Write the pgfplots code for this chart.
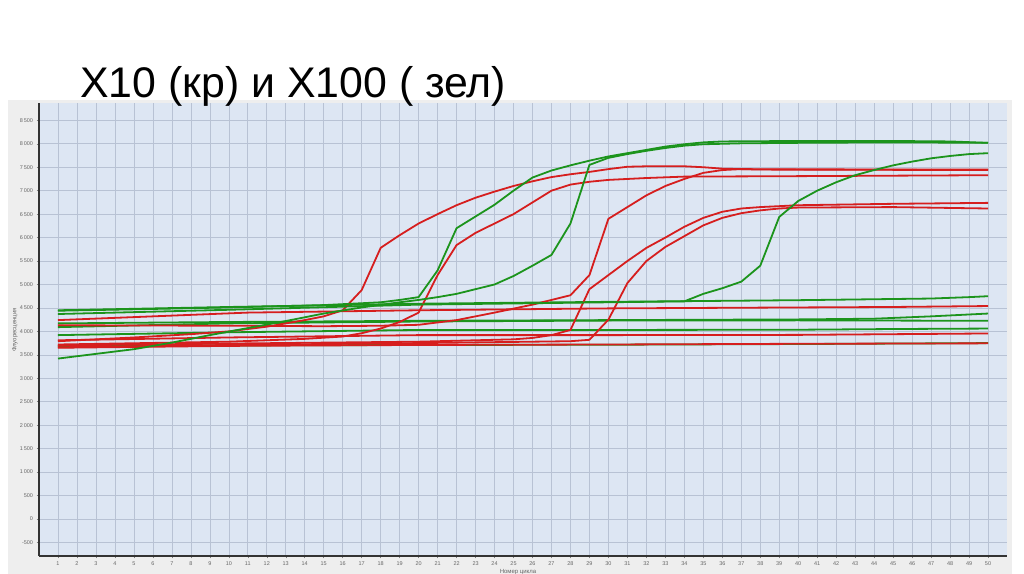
\documentclass[border=0pt]{standalone}
\usepackage{pgfplots}
\pgfplotsset{compat=1.18}
\usepackage{fontspec}
\setmainfont{Liberation Sans}
\definecolor{cred}{RGB}{214,30,30}
\definecolor{cgreen}{RGB}{28,148,28}
\definecolor{bgblue}{RGB}{221,230,243}
\definecolor{gridc}{RGB}{184,194,212}
\definecolor{panel}{RGB}{238,238,238}
\begin{document}
\begin{tikzpicture}[x=1bp,y=1bp]
\path[use as bounding box, fill=white] (0,0) rectangle (1024,574);
\fill[panel] (8,0) rectangle (1012,474);
\begin{axis}[at={(39bp,18bp)}, anchor=south west, width=968bp, height=453bp, scale only axis,
  xmin=0, xmax=51, ymin=-790, ymax=8870,
  axis background/.style={fill=bgblue},
  grid=major, major grid style={gridc, line width=0.6bp},
  axis lines*=left, axis line style={black!80, line width=1.3bp},
  xtick={1,...,50}, ytick={-500,0,...,8500},
  tick align=outside, major tick length=2.5bp, tick style={gray, line width=0.5bp},
  ticklabel style={font=\fontsize{5.5}{6}\selectfont, text=gray!80!black},
  /pgf/number format/assume math mode=true,
  /pgf/number format/1000 sep={\,},
  every axis plot/.append style={line width=1.8bp, line join=round},
]
% flat greens
\addplot[cgreen] coordinates {(1,4450)(10,4520)(20,4590)(30,4630)(40,4665)(45,4690)(47,4700)(49,4730)(50,4750)};
\addplot[cgreen] coordinates {(1,4170)(10,4200)(20,4225)(30,4240)(40,4255)(44,4270)(47,4320)(50,4380)};
\addplot[cgreen] coordinates {(1,4090)(10,4170)(20,4210)(30,4230)(40,4235)(50,4225)};
\addplot[cgreen] coordinates {(1,3920)(10,3980)(20,4030)(30,4030)(40,4035)(45,4050)(50,4060)};
\addplot[cgreen] coordinates {(1,3690)(20,3710)(30,3715)(40,3730)(50,3750)};
% flat reds
\addplot[cred] coordinates {(1,4240)(11,4400)(20,4450)(30,4490)(40,4510)(45,4520)(50,4540)};
\addplot[cred] coordinates {(1,3810)(10,3870)(20,3920)(30,3920)(40,3925)(45,3940)(50,3955)};
\addplot[cred] coordinates {(1,3650)(10,3690)(20,3710)(30,3720)(40,3735)(50,3745)};
% rising reds
\addplot[cred] coordinates {(1,3790)(5,3870)(8,3940)(10,4000)(12,4100)(14,4240)(15,4320)(16,4450)(17,4880)(18,5780)(19,6050)(20,6300)(21,6500)(22,6690)(23,6850)(24,6980)(25,7100)(26,7200)(27,7290)(28,7350)(29,7400)(30,7460)(31,7510)(32,7520)(34,7520)(35,7500)(36,7470)(38,7450)(50,7440)};
\addplot[cred] coordinates {(1,3720)(10,3780)(14,3840)(16,3890)(17,3960)(18,4060)(19,4200)(20,4400)(21,5200)(22,5840)(23,6100)(24,6300)(25,6500)(26,6750)(27,7000)(28,7130)(29,7190)(30,7230)(32,7270)(34,7300)(40,7310)(50,7330)};
\addplot[cred] coordinates {(1,4130)(10,4120)(15,4110)(18,4120)(20,4140)(22,4240)(24,4400)(26,4570)(28,4770)(29,5200)(30,6400)(31,6650)(32,6900)(33,7100)(34,7250)(35,7380)(36,7440)(37,7460)(40,7455)(50,7450)};
\addplot[cred] coordinates {(1,3700)(10,3740)(20,3780)(25,3830)(26,3860)(27,3920)(28,4030)(29,4900)(30,5200)(31,5500)(32,5780)(33,6000)(34,6230)(35,6420)(36,6550)(37,6620)(38,6650)(39,6670)(40,6690)(45,6720)(50,6740)};
\addplot[cred] coordinates {(1,3660)(10,3710)(20,3750)(28,3790)(29,3820)(30,4250)(31,5030)(32,5500)(33,5800)(34,6030)(35,6260)(36,6420)(37,6520)(38,6580)(39,6620)(40,6640)(45,6650)(50,6620)};
% rising greens
\addplot[cgreen] coordinates {(1,4440)(5,4470)(10,4510)(15,4560)(18,4620)(19,4670)(20,4730)(21,5300)(22,6200)(23,6450)(24,6700)(25,7000)(26,7280)(27,7430)(28,7540)(29,7640)(30,7730)(31,7800)(32,7870)(33,7940)(34,7990)(35,8030)(36,8050)(40,8060)(45,8060)(48,8050)(50,8020)};
\addplot[cgreen] coordinates {(1,3420)(3,3520)(5,3620)(7,3760)(9,3920)(11,4070)(13,4220)(15,4380)(17,4510)(19,4620)(20,4670)(21,4730)(22,4800)(23,4900)(24,5000)(25,5180)(26,5400)(27,5630)(28,6300)(29,7550)(30,7700)(31,7780)(32,7850)(33,7910)(34,7960)(35,7990)(37,8010)(40,8020)(45,8030)(50,8020)};
\addplot[cgreen] coordinates {(1,4370)(10,4460)(20,4570)(30,4620)(34,4640)(35,4800)(36,4920)(37,5060)(38,5400)(39,6440)(40,6780)(41,7000)(42,7180)(43,7330)(44,7440)(45,7540)(46,7620)(47,7690)(48,7740)(49,7780)(50,7800)};
\end{axis}
\node[anchor=base west, font=\fontsize{43}{48}\selectfont, inner sep=0] at (80,476) {X10 (кр) и X100 ( зел)};
\node[rotate=90, font=\fontsize{6}{7}\selectfont, text=gray!80!black] at (15,244) {Флуоресценция};
\node[font=\fontsize{6}{7}\selectfont, text=gray!80!black, anchor=base] at (518,0) {Номер цикла};
\end{tikzpicture}
\end{document}
